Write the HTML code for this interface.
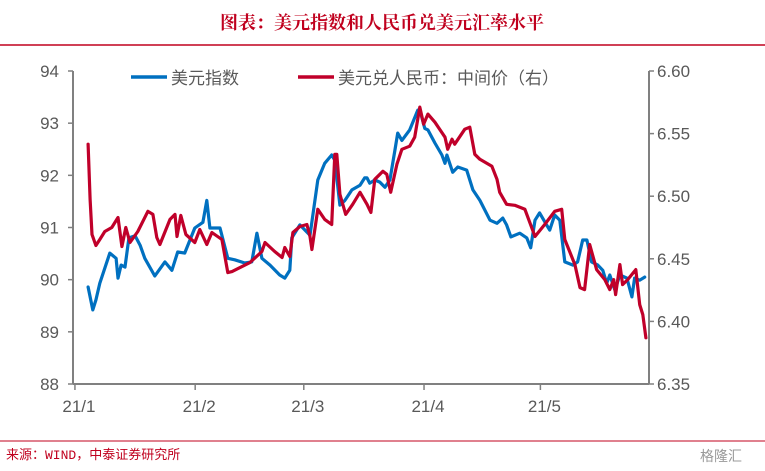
<!DOCTYPE html>
<html><head><meta charset="utf-8"><style>
body{margin:0;background:#fff;}
svg{display:block;font-family:"Liberation Sans","Noto Sans CJK SC",sans-serif;}
</style></head><body>
<svg id="chart" width="765" height="471" viewBox="0 0 765 471">
<text x="382" y="29" text-anchor="middle" font-size="18" font-weight="bold" fill="#c0001e" font-family="'Noto Serif CJK SC','Liberation Serif',serif">图表：美元指数和人民币兑美元汇率水平</text>
<line x1="0" y1="45" x2="765" y2="45" stroke="#c0001e" stroke-width="1.5"/>
<line x1="0" y1="441" x2="765" y2="441" stroke="#c0001e" stroke-width="1"/>
<text x="6" y="459" font-size="13" fill="#c0001e" font-family="'Liberation Mono','Noto Sans CJK SC',monospace">来源：WIND，中泰证券研究所</text>
<text x="700" y="461" font-size="14" fill="#999">格隆汇</text>
<g id="axes"></g>
<g id="series"></g>
<g>
<line x1="131" y1="77" x2="167" y2="77" stroke="#0070c0" stroke-width="3.5"/>
<text x="171" y="84" font-size="17" fill="#595959">美元指数</text>
<line x1="298" y1="77" x2="334" y2="77" stroke="#c0002a" stroke-width="3.5"/>
<text x="338" y="84" font-size="17" fill="#595959">美元兑人民币：中间价（右）</text>
</g>
</svg>
<script>
const dxyDays=[3.4,4.6,5.4,6.4,9.0,10.6,11.1,11.9,12.9,13.9,15.5,16.8,18.0,20.6,23.2,25.0,26.5,28.3,30.9,33.0,34.0,34.8,37.4,39.4,41.2,43.8,45.6,46.9,48.2,50.3,52.8,54.1,55.4,55.9,58.0,60.6,62.6,64.4,66.2,67.0,68.3,69.6,71.4,73.5,74.7,75.3,76.0,77.3,78.6,79.9,81.2,82.5,83.2,84.3,86.3,88.4,88.9,90.2,91.0,92.8,94.6,95.4,95.9,97.4,98.7,101.0,102.6,104.4,107.0,108.8,110.3,111.3,112.4,114.7,116.5,117.5,118.6,119.8,121.6,122.4,123.7,125.0,126.3,128.4,129.6,130.9,132.0,133.2,134.8,136.1,137.1,137.9,139.2,140.5,142.3,143.6,144.3,145.6,146.9];
const dxyValues=[89.86,89.42,89.61,89.93,90.51,90.41,90.03,90.28,90.24,90.80,90.84,90.66,90.41,90.07,90.34,90.18,90.53,90.51,90.99,91.10,91.52,90.99,90.99,90.41,90.38,90.32,90.34,90.89,90.41,90.28,90.09,90.03,90.18,90.80,91.05,90.85,91.91,92.23,92.39,92.29,91.43,91.52,91.72,91.81,91.95,91.95,91.85,91.91,91.87,91.77,91.91,92.48,92.81,92.67,92.87,93.25,93.25,92.90,92.87,92.62,92.39,92.23,92.39,92.06,92.16,92.10,91.72,91.52,91.14,91.08,91.18,91.05,90.82,90.89,90.80,90.61,91.14,91.28,91.05,90.95,91.24,91.14,90.34,90.28,90.34,90.76,90.76,90.34,90.28,90.18,89.93,90.09,89.80,90.09,90.03,89.67,90.03,89.99,90.05];
const cnyDays=[3.4,3.9,4.4,5.4,6.4,7.7,9.5,11.1,12.1,13.1,14.2,16.2,18.8,20.1,21.1,21.9,24.5,25.8,26.3,27.3,28.6,30.9,32.2,34.0,35.3,37.9,39.4,40.5,45.1,48.2,49.0,51.5,53.4,54.1,55.4,56.2,58.0,59.8,60.6,61.1,62.6,64.4,66.2,67.0,67.5,68.3,69.8,71.6,73.5,75.3,76.3,77.3,79.4,80.4,81.4,83.0,84.3,86.3,87.6,88.9,89.9,91.0,92.8,95.4,96.1,97.2,97.9,100.5,101.8,103.1,104.4,107.5,108.8,109.5,111.3,113.4,116.0,118.6,121.1,123.7,125.5,126.3,128.9,130.2,131.4,132.7,134.5,136.6,137.9,138.9,139.4,140.5,141.2,142.5,144.6,145.6,146.4,147.2];
const cnyValues=[6.5415,6.4975,6.4694,6.4606,6.4654,6.4718,6.4750,6.4830,6.4598,6.4750,6.4630,6.4718,6.4879,6.4855,6.4670,6.4614,6.4815,6.4855,6.4678,6.4847,6.4694,6.4630,6.4734,6.4614,6.4710,6.4654,6.4390,6.4398,6.4470,6.4558,6.4630,6.4558,6.4510,6.4590,6.4518,6.4710,6.4758,6.4774,6.4678,6.4574,6.4895,6.4815,6.4774,6.5335,6.5335,6.5015,6.4855,6.4935,6.5031,6.4935,6.4871,6.5135,6.5199,6.5175,6.5031,6.5255,6.5375,6.5399,6.5471,6.5712,6.5575,6.5656,6.5591,6.5471,6.5375,6.5455,6.5415,6.5535,6.5551,6.5335,6.5295,6.5239,6.5135,6.5031,6.4935,6.4927,6.4895,6.4678,6.4774,6.4879,6.4895,6.4654,6.4454,6.4270,6.4254,6.4614,6.4414,6.4334,6.4254,6.4334,6.4214,6.4454,6.4294,6.4334,6.4414,6.4134,6.4054,6.3869];
const leftTicks=[88,89,90,91,92,93,94];
const rightTicks=[6.35,6.40,6.45,6.50,6.55,6.60];
const monthLabels=["21/1","21/2","21/3","21/4","21/5"];
const monthStartDays=[0,31,59,90,120];
const NS="http://www.w3.org/2000/svg";
const X0=73,X1=649,Y0=384,Y1=71;
const DAY_MIN=-0.5,DAY_MAX=148;
const xs=d=>X0+(d-DAY_MIN)/(DAY_MAX-DAY_MIN)*(X1-X0);
const yL=v=>Y0-(v-88)/(94-88)*(Y0-Y1);
const yR=v=>Y0-(v-6.35)/(6.60-6.35)*(Y0-Y1);
const axes=document.getElementById('axes');
const series=document.getElementById('series');
function mk(tag,attrs,parent){const e=document.createElementNS(NS,tag);for(const k in attrs)e.setAttribute(k,attrs[k]);parent.appendChild(e);return e;}
const gc="#808080";
let a=mk('line',{x1:X0,y1:Y1,x2:X0,y2:Y0,stroke:gc,'stroke-width':2},axes);


a=mk('line',{x1:X1,y1:Y1,x2:X1,y2:Y0,stroke:gc,'stroke-width':2},axes);


a=mk('line',{x1:X0,y1:Y0,x2:X1,y2:Y0,stroke:gc,'stroke-width':2},axes);


leftTicks.forEach(v=>{const y=yL(v);
 const t=mk('line',{x1:X0-5,y1:y,x2:X0,y2:y,stroke:gc,'stroke-width':1.5},axes);
 
 
 const l=mk('text',{x:X0-14,y:y+6,'text-anchor':'end','font-size':17,fill:'#595959'},axes);l.textContent=v;
 
 
});
rightTicks.forEach(v=>{const y=yR(v);
 const t=mk('line',{x1:X1,y1:y,x2:X1+5,y2:y,stroke:gc,'stroke-width':1.5},axes);
 
 
 const l=mk('text',{x:X1+8,y:y+6,'font-size':17,fill:'#595959'},axes);l.textContent=v.toFixed(2);
 
 
});
monthLabels.forEach((m,i)=>{const x=xs(monthStartDays[i]);
 const t=mk('line',{x1:x,y1:Y0,x2:x,y2:Y0+6,stroke:gc,'stroke-width':1.5},axes);
 
 
 const l=mk('text',{x:x+4,y:Y0+28,'text-anchor':'middle','font-size':17,fill:'#595959'},axes);l.textContent=m;
 
 
});
function line(days,vals,fy,color,name){
 const pts=days.map((d,i)=>xs(d).toFixed(1)+','+fy(vals[i]).toFixed(1)).join(' ');
 const p=mk('polyline',{points:pts,fill:'none',stroke:color,'stroke-width':3.2,'stroke-linejoin':'round','stroke-linecap':'round'},series);
 
 
}
line(dxyDays,dxyValues,yL,'#0070c0','dxy-line');
line(cnyDays,cnyValues,yR,'#c0002a','usdcny-line');
</script>
</body></html>
